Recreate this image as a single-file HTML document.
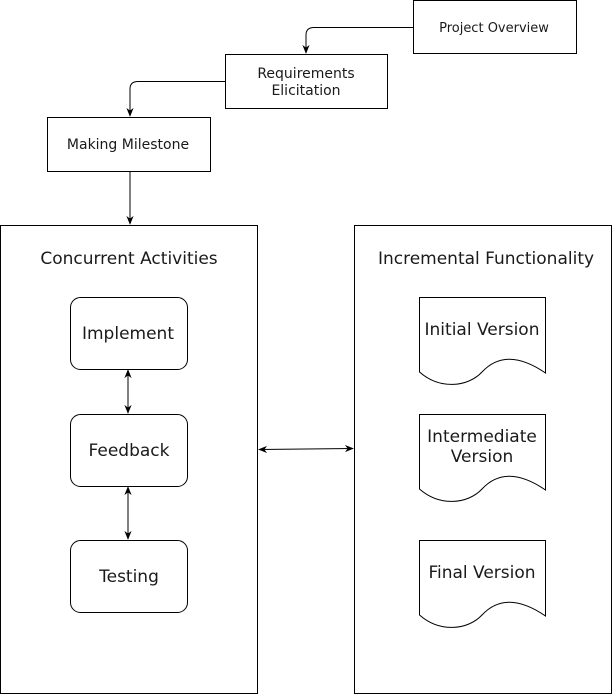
<!DOCTYPE html>
<html><head><style>
html,body{margin:0;padding:0;background:#fff;}
svg{display:block;}
text{font-family:"DejaVu Sans","Liberation Sans",sans-serif;fill:#1a1a1a;}
</style></head><body>
<svg width="613" height="695" viewBox="0 0 613 695" xmlns="http://www.w3.org/2000/svg">
<defs>
<marker id="a" viewBox="0 0 10 10" refX="9" refY="5" markerWidth="9" markerHeight="9" markerUnits="userSpaceOnUse" orient="auto-start-reverse"><path d="M0,1 L10,5 L0,9 L3,5 Z" fill="#000"/></marker>
</defs>
<g fill="#fff" stroke="#000" stroke-width="1">
<rect x="413.5" y="0.5" width="163" height="53"/>
<rect x="225.5" y="54.5" width="162" height="54"/>
<rect x="47.5" y="117.5" width="163" height="54"/>
<rect x="0.5" y="225.5" width="257" height="468"/>
<rect x="354.5" y="225.5" width="257" height="468"/>
<rect x="70.5" y="297.5" width="117" height="72" rx="10"/>
<rect x="70.5" y="414.5" width="117" height="72" rx="10"/>
<rect x="70.5" y="540.5" width="117" height="72" rx="10"/>
<path d="M419.5,297.5 H545.5 V373 C515,352 495,358 482,372 C468,387 440,390 419.5,372 Z"/>
<path d="M419.5,414.5 H545.5 V490 C515,469 495,475 482,489 C468,504 440,507 419.5,489 Z"/>
<path d="M419.5,540.5 H545.5 V616 C515,595 495,601 482,615 C468,630 440,633 419.5,615 Z"/>
</g>
<g fill="none" stroke="#000" stroke-width="1">
<path d="M413,27.5 H314 Q306,27.5 306,35 V53" marker-end="url(#a)"/>
<path d="M225,81.5 H138 Q130,81.5 130,89 V116" marker-end="url(#a)"/>
<path d="M130,171 V224" marker-end="url(#a)"/>
<path d="M128,370 V413" marker-start="url(#a)" marker-end="url(#a)"/>
<path d="M128,487 V539" marker-start="url(#a)" marker-end="url(#a)"/>
<path d="M259,449.5 L353,448.5" marker-start="url(#a)" marker-end="url(#a)"/>
</g>
<g text-anchor="middle">
<text x="494" y="32" font-size="13">Project Overview</text>
<text x="306" y="78" font-size="14">Requirements</text>
<text x="306" y="95" font-size="14">Elicitation</text>
<text x="128" y="149" font-size="14">Making Milestone</text>
</g>
<g font-size="17" text-anchor="middle">
<text x="129" y="264">Concurrent Activities</text>
<text x="486" y="264">Incremental Functionality</text>
<text x="128" y="339">Implement</text>
<text x="129" y="456">Feedback</text>
<text x="129" y="582">Testing</text>
<text x="482" y="335">Initial Version</text>
<text x="482" y="442">Intermediate</text>
<text x="482" y="462">Version</text>
<text x="482" y="578">Final Version</text>
</g>
</svg>
</body></html>
